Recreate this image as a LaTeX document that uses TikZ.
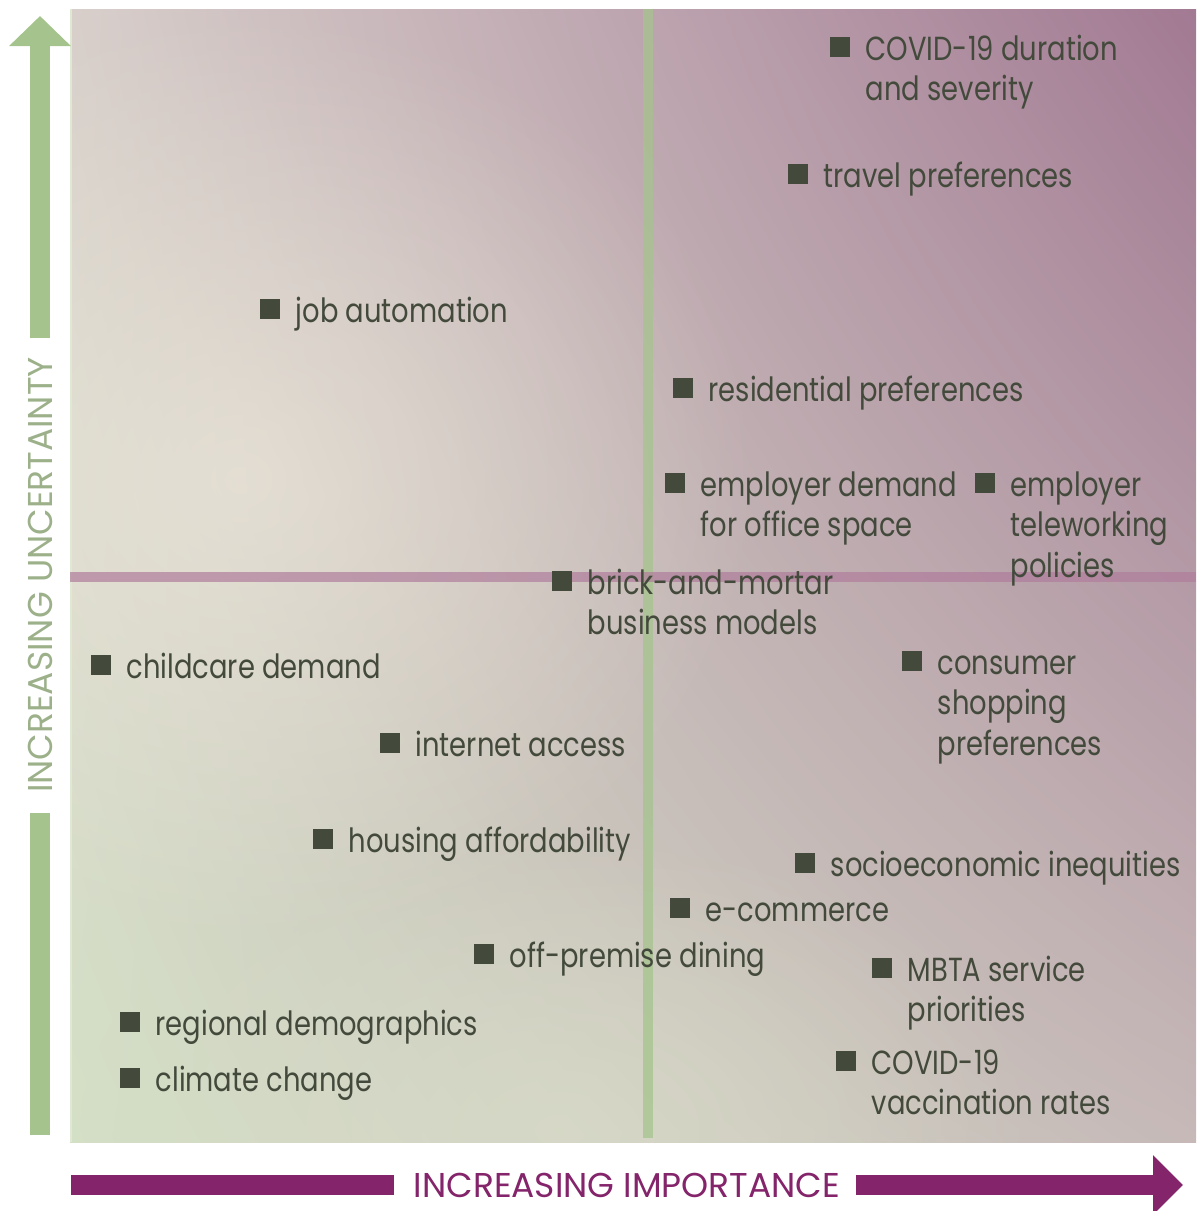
\documentclass[tikz,border=0pt]{standalone}
\usepackage{fontspec}
\setmainfont{Poppins}[FakeStretch=0.82]
\newfontfamily\axisfont{Poppins}
\usetikzlibrary{arrows.meta,fadings,shadings}

\definecolor{itemgray}{RGB}{67,74,60}
\definecolor{axisgreen}{RGB}{165,196,141}
\definecolor{uncgreen}{RGB}{156,176,138}
\definecolor{axisplum}{RGB}{132,36,106}
\definecolor{bgul}{RGB}{216,207,203}
\definecolor{bgur}{RGB}{162,122,147}
\definecolor{bgll}{RGB}{212,224,198}
\definecolor{bglr}{RGB}{198,185,184}
\definecolor{glowbeige}{RGB}{240,234,222}
\definecolor{glowgreen}{RGB}{218,220,202}
\definecolor{midline}{RGB}{176,125,156}
\definecolor{edgegreen}{RGB}{222,232,210}

\tikzfading[name=glowfade, inner color=transparent!0, outer color=transparent!100]

\tikzset{
	sq/.style={fill=itemgray, minimum size=2mm, inner sep=0pt},
	lbl/.style={anchor=base west, text=itemgray, align=left, inner sep=0pt, xshift=2.5mm, yshift=-1.3mm, font=\fontsize{9.5}{11.66}\selectfont},
	lbltwo/.style={lbl, yshift=-11.66pt},
	lblthree/.style={lbl, yshift=-23.32pt},
	axislbl/.style={font=\axisfont\fontsize{9.8}{12}\selectfont, inner sep=0pt},
	impaxis/.style={axisplum, line width=2mm},
	uncaxis/.style={axisgreen, line width=2mm},
}

\begin{document}
\begin{tikzpicture}[x=0.1mm, y=-0.1mm]
	\useasboundingbox (0,0) rectangle (1196,1211);
	% background
	\shade[upper left=bgul, upper right=bgur, lower left=bgll, lower right=bglr] (70,9) rectangle (1196,1142);
	\begin{scope}
		\clip (70,9) rectangle (1196,1142);
		\fill[glowbeige, opacity=0.6, path fading=glowfade] (240,480) ellipse (520 and 470);
		\fill[glowgreen, opacity=0.7, path fading=glowfade] (560,1130) ellipse (480 and 300);
	\end{scope}
	\draw[edgegreen, line width=0.2mm] (71,9) -- (71,1142);
	% quadrant lines
	\draw[axisgreen, opacity=0.75, line width=1mm] (648,9) -- (648,1138);
	\draw[midline, opacity=0.7, line width=1mm] (70,577) -- (1196,577);
	% axes
	\node[axislbl, text=axisplum] (imp) at (627,1185) {INCREASING IMPORTANCE};
	\node[axislbl, text=uncgreen, rotate=90] (unc) at (40,575) {INCREASING UNCERTAINTY};
	\coordinate (impstart) at (71,1185);
	\coordinate (impend) at (1183,1185);
	\coordinate (uncstart) at (40,1135);
	\coordinate (uncend) at (40,16);
	\draw[impaxis] (impstart) -- ([xshift=-1.9mm]imp.west);
	\draw[impaxis, -{Triangle[width=5.8mm, length=3mm]}] ([xshift=1.5mm]imp.east) -- (impend);
	\draw[uncaxis] (uncstart) -- ([yshift=-1.9mm]unc.west);
	\draw[uncaxis, -{Triangle[width=6mm, length=3mm]}] ([yshift=1.8mm]unc.east) -- (uncend);
	% factors
	\node[sq] (scovid) at (840,47) {};
	\node[lbltwo] (tcovid) at (scovid) {COVID-19 duration\\and severity};
	\node[sq] (stravel) at (798,174) {};
	\node[lbl] (ttravel) at (stravel) {travel preferences};
	\node[sq] (sjob) at (270,309) {};
	\node[lbl] (tjob) at (sjob) {job automation};
	\node[sq] (sresid) at (683,388) {};
	\node[lbl] (tresid) at (sresid) {residential preferences};
	\node[sq] (soffice) at (675,483) {};
	\node[lbltwo] (toffice) at (soffice) {employer demand\\for office space};
	\node[sq] (stele) at (985,483) {};
	\node[lblthree] (ttele) at (stele) {employer\\teleworking\\policies};
	\node[sq] (sbrick) at (562,581) {};
	\node[lbltwo] (tbrick) at (sbrick) {brick-and-mortar\\business models};
	\node[sq] (sshop) at (912,661) {};
	\node[lblthree] (tshop) at (sshop) {consumer\\shopping\\preferences};
	\node[sq] (schild) at (101,665) {};
	\node[lbl] (tchild) at (schild) {childcare demand};
	\node[sq] (snet) at (390,743) {};
	\node[lbl] (tnet) at (snet) {internet access};
	\node[sq] (shouse) at (323,839) {};
	\node[lbl] (thouse) at (shouse) {housing affordability};
	\node[sq] (ssocio) at (805,863) {};
	\node[lbl] (tsocio) at (ssocio) {socioeconomic inequities};
	\node[sq] (secom) at (680,908) {};
	\node[lbl] (tecom) at (secom) {e-commerce};
	\node[sq] (sdine) at (484,954) {};
	\node[lbl] (tdine) at (sdine) {off-premise dining};
	\node[sq] (smbta) at (882,968) {};
	\node[lbltwo] (tmbta) at (smbta) {MBTA service\\priorities};
	\node[sq] (sregion) at (130,1022) {};
	\node[lbl] (tregion) at (sregion) {regional demographics};
	\node[sq] (svax) at (846,1061) {};
	\node[lbltwo] (tvax) at (svax) {COVID-19\\vaccination rates};
	\node[sq] (sclimate) at (130,1078) {};
	\node[lbl] (tclimate) at (sclimate) {climate change};
\end{tikzpicture}
\end{document}
